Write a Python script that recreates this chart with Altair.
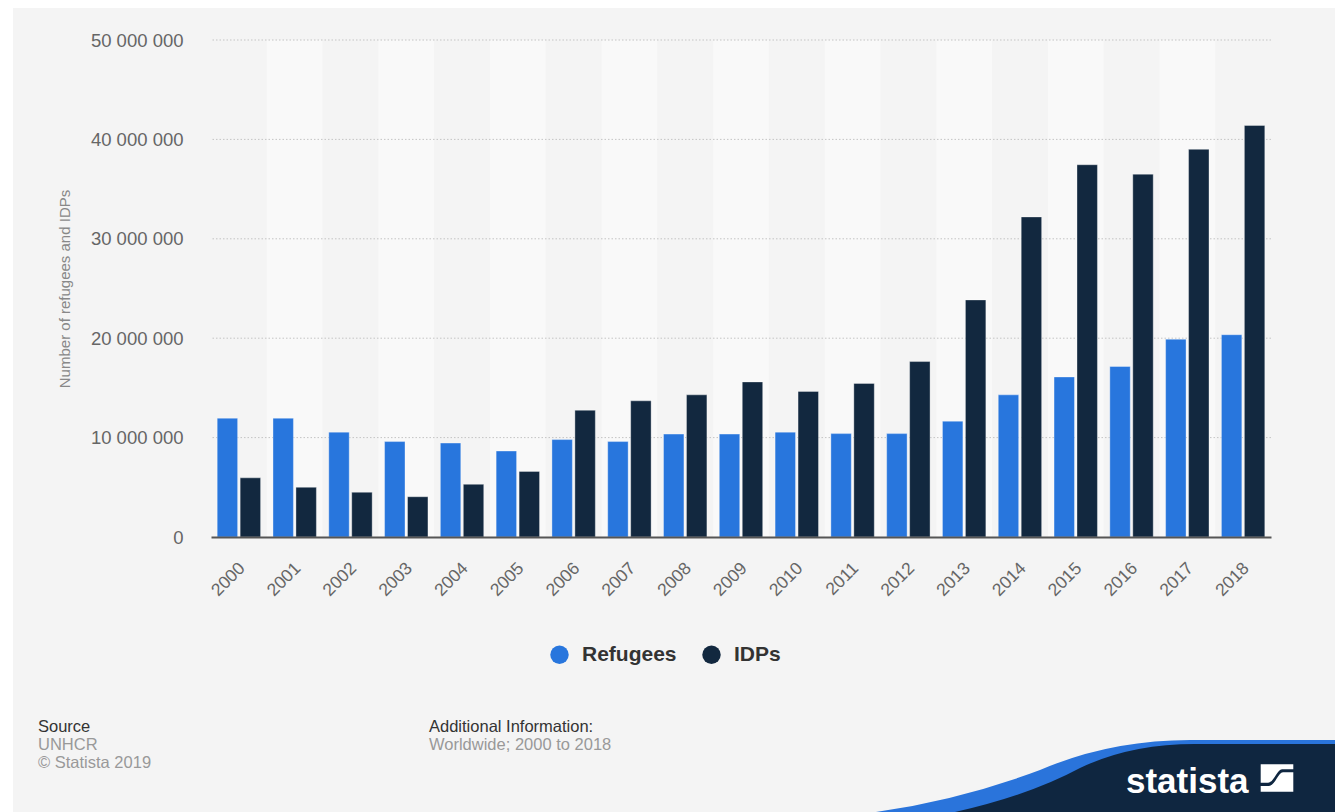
import altair as alt
import pandas as pd

# ---- data ----
years = ["2000", "2001", "2002", "2003", "2004", "2005", "2006", "2007", "2008", "2009",
         "2010", "2011", "2012", "2013", "2014", "2015", "2016", "2017", "2018"]
refugees = [11.95, 11.95, 10.55, 9.6, 9.45, 8.65, 9.8, 9.6, 10.35, 10.35,
            10.55, 10.4, 10.4, 11.65, 14.3, 16.1, 17.15, 19.9, 20.35]
idps = [5.95, 5.0, 4.5, 4.05, 5.3, 6.6, 12.75, 13.7, 14.3, 15.6,
        14.65, 15.45, 17.65, 23.85, 32.2, 37.45, 36.5, 39.0, 41.4]
series = ["Refugees", "IDPs"]
colors = ["#2876dd", "#12283f"]
y_ticks = [0, 10_000_000, 20_000_000, 30_000_000, 40_000_000, 50_000_000]

rows = []
for i, yr in enumerate(years):
    rows.append({"year": yr, "series": "Refugees", "value": refugees[i] * 1e6})
    rows.append({"year": yr, "series": "IDPs", "value": idps[i] * 1e6})
df = pd.DataFrame(rows)
bands_df = pd.DataFrame({"year": years[1::2]})
grid_df = pd.DataFrame({"value": y_ticks[1:]})
one = pd.DataFrame({"k": [0]})

W, H = 1060, 497
PL, PT = 211, 40
FONT = "Liberation Sans"

x_axis = alt.Axis(title=None, labelAngle=-45, labelAlign="right", labelBaseline="top",
                  labelFontSize=17.5, labelColor="#666666", labelFont=FONT, labelPadding=22,
                  labelOffset=-3,
                  ticks=False, tickSize=0, domain=True, domainColor="#555555", domainWidth=2,
                  grid=False, zindex=1)
x_enc = alt.X("year:N", scale=alt.Scale(domain=years, paddingInner=0, paddingOuter=0),
              axis=x_axis, title=None)
y_axis = alt.Axis(title="Number of refugees and IDPs", values=y_ticks, grid=False, domain=False,
                  ticks=False, tickSize=0, labelPadding=28, labelFontSize=18.5,
                  labelColor="#666666", labelFont=FONT,
                  labelExpr="join(split(format(datum.value, ','), ','), ' ')",
                  titleFontSize=15, titleColor="#888888", titleFont=FONT, titleFontWeight="normal",
                  titleX=-139, titleY=H / 2, titleAlign="center", zindex=1)
y_enc = alt.Y("value:Q", scale=alt.Scale(domain=[0, 50_000_000], nice=False), axis=y_axis,
              title="Number of refugees and IDPs")

strip_top = alt.Chart(one).mark_rect(color="white").encode(
    x=alt.value(-PL), x2=alt.value(1335 - PL), y=alt.value(-PT), y2=alt.value(8 - PT))
strip_left = alt.Chart(one).mark_rect(color="white").encode(
    x=alt.value(-PL), x2=alt.value(13 - PL), y=alt.value(-PT), y2=alt.value(812 - PT))

bands = alt.Chart(bands_df).mark_rect(color="#f9f9f9").encode(
    x=x_enc, y=alt.value(0), y2=alt.value(H))

grid = alt.Chart(grid_df).mark_rule(color="#c4c4c4", strokeDash=[1.5, 2], strokeWidth=1).encode(y=y_enc)

bars = alt.Chart(df).mark_bar(stroke="white", strokeOpacity=0.35, strokeWidth=1).encode(
    x=x_enc,
    xOffset=alt.XOffset("series:N", sort=series,
                        scale=alt.Scale(domain=series, paddingInner=0.11, paddingOuter=0.27)),
    y=y_enc,
    color=alt.Color("series:N", sort=series,
                    scale=alt.Scale(domain=series, range=colors),
                    legend=alt.Legend(orient="none", legendX=338, legendY=604, direction="horizontal",
                                      title=None, symbolType="circle", symbolSize=340,
                                      symbolStrokeWidth=0, symbolOpacity=1,
                                      labelFont=FONT, labelFontWeight="bold", labelFontSize=21,
                                      labelColor="#333333", labelOffset=12, columnPadding=24,
                                      padding=0)),
)


def txt(s, x, y, color, size=16.5, weight="normal", font=FONT):
    return alt.Chart(one).mark_text(align="left", baseline="alphabetic", fontSize=size,
                                    fontWeight=weight, color=color, font=font).encode(
        x=alt.value(x), y=alt.value(y), text=alt.value(s))


footer = [
    txt("Source", 38 - PL, 731.5 - PT, "#333333"),
    txt("UNHCR", 38 - PL, 750 - PT, "#999999"),
    txt("© Statista 2019", 38 - PL, 767.5 - PT, "#999999"),
    txt("Additional Information:", 429 - PL, 731.5 - PT, "#333333"),
    txt("Worldwide; 2000 to 2018", 429 - PL, 750 - PT, "#999999"),
]

blue_wave = "M 876 812 Q 960 800 1040 770 Q 1110 740 1190 740 L 1336 740 L 1336 813 L 876 813 Z"
navy_wave = "M 955 812 Q 1030 795 1080 768 Q 1130 744 1195 744 L 1336 744 L 1336 813 L 955 813 Z"


def shape(path, x, y, color):
    return alt.Chart(one).mark_point(shape=path, size=4, filled=True, fill=color, opacity=1,
                                     strokeWidth=0).encode(x=alt.value(x), y=alt.value(y))


logo_top = "M -16.3 -13.7 L 16.3 -13.7 L 16.3 -8.7 L 5 -8.7 C 0 -8.7 -3 4.7 -9 4.7 L -16.3 4.7 Z"
logo_bot = "M -16.3 8 L -8 8 C -2 8 1 -5.7 6 -5.7 L 16.3 -5.7 L 16.3 13.7 L -16.3 13.7 Z"

logo = [
    shape(blue_wave, -PL, -PT, "#2a74db"),
    shape(navy_wave, -PL, -PT, "#0f2640"),
    shape(logo_top, 1277 - PL, 778 - PT, "white"),
    shape(logo_bot, 1277 - PL, 778 - PT, "white"),
    txt("statista", 1126 - PL, 792.5 - PT, "white", size=35, weight="bold"),
]

chart = alt.layer(strip_top, strip_left, bands, grid, bars, *footer, *logo).properties(
    width=W, height=H,
    padding={"left": PL, "top": PT, "right": 1335 - PL - W, "bottom": 812 - PT - H},
    autosize=alt.AutoSizeParams(type="none"),
).configure(background="#f4f4f4").configure_view(stroke=None, fill=None)

chart.save("out.html", embed_options={"renderer": "svg", "actions": False})
